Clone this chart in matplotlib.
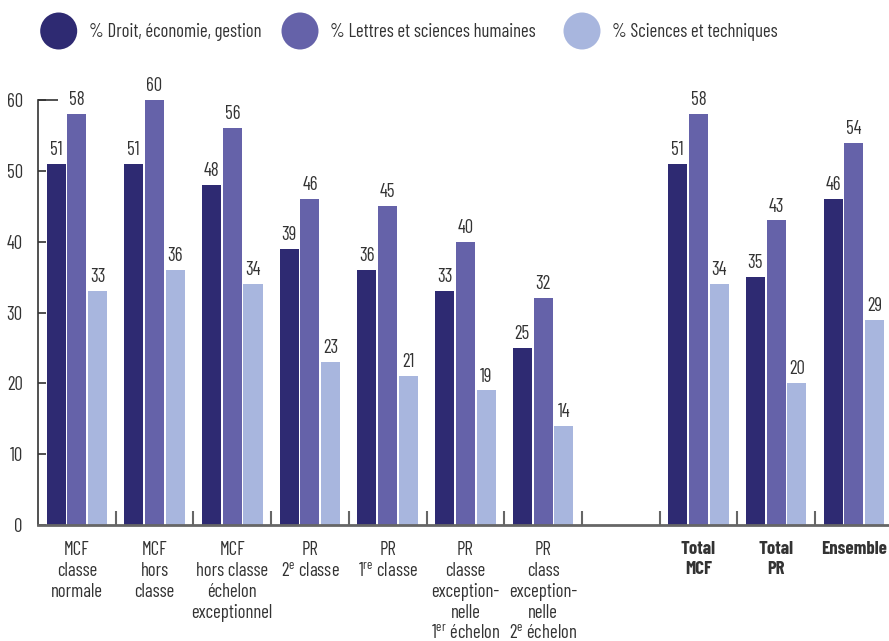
import matplotlib
matplotlib.use("Agg")
import matplotlib.pyplot as plt
from matplotlib import font_manager
from matplotlib.patches import Ellipse
import numpy as np

available = {f.name for f in font_manager.fontManager.ttflist}
candidates = ['Barlow Condensed', 'Roboto Condensed', 'Archivo Narrow', 'PT Sans Narrow',
              'Liberation Sans Narrow', 'DejaVu Sans']
font = next(c for c in candidates if c in available or c == 'DejaVu Sans')
fs = 13.5 if font != 'DejaVu Sans' else 10

plt.rcParams['font.family'] = [font, 'DejaVu Sans']
plt.rcParams['mathtext.fontset'] = 'custom'
plt.rcParams['mathtext.rm'] = font
plt.rcParams['mathtext.it'] = font
plt.rcParams['mathtext.bf'] = font + ':bold'

categories = [
    "MCF\nclasse\nnormale",
    "MCF\nhors\nclasse",
    "MCF\nhors classe\néchelon\nexceptionnel",
    "PR\n2$^{\\mathrm{e}}$ classe",
    "PR\n1$^{\\mathrm{re}}$ classe",
    "PR\nclasse\nexception-\nnelle\n1$^{\\mathrm{er}}$ échelon",
    "PR\nclass\nexception-\nnelle\n2$^{\\mathrm{e}}$ échelon",
    "",
    "Total\nMCF",
    "Total\nPR",
    "Ensemble",
]
bold_cats = {"Total\nMCF", "Total\nPR", "Ensemble"}

series_names = ["% Droit, économie, gestion", "% Lettres et sciences humaines", "% Sciences et techniques"]
droit = [51, 51, 48, 39, 36, 33, 25, None, 51, 35, 46]
lettres = [58, 60, 56, 46, 45, 40, 32, None, 58, 43, 54]
sciences = [33, 36, 34, 23, 21, 19, 14, None, 34, 20, 29]
colors = ["#2e2a72", "#6562a9", "#a8b6de"]

W, H = 889, 641
fig = plt.figure(figsize=(W / 100, H / 100), dpi=100)
left_px, right_px = 38, 889
bottom_px, top_px = 525, 100
ax = fig.add_axes([left_px / W, (H - bottom_px) / H, (right_px - left_px) / W, (bottom_px - top_px) / H])

slot_px = 77.7
ax.set_xlim(0, (right_px - left_px) / slot_px)
ax.set_ylim(0, 60)

bw = 0.245
offsets = [-0.267, 0.0, 0.267]
for s, (vals, col) in enumerate(zip([droit, lettres, sciences], colors)):
    for i, v in enumerate(vals):
        if v is None:
            continue
        x = i + 0.5 + offsets[s]
        ax.bar(x, v, width=bw, color=col, linewidth=0)
        ax.annotate(str(v), (x, v), xytext=(0, 3.5), textcoords='offset points',
                    ha='center', va='bottom', fontsize=fs, color='#333333')

for sp in ['top', 'right']:
    ax.spines[sp].set_visible(False)
ax.spines['left'].set_color('#333333')
ax.spines['left'].set_linewidth(1.2)
ax.spines['bottom'].set_color('#666666')
ax.spines['bottom'].set_linewidth(2)

ax.set_yticks(range(0, 61, 10))
ax.tick_params(axis='y', direction='in', length=6, width=1.2, color='#333333',
               labelsize=fs, labelcolor='#333333', pad=11)
ax.hlines(60, 0, 20 / slot_px, color='#333333', linewidth=1.2, clip_on=False)

ax.set_xticks(np.arange(1, len(categories)))
ax.tick_params(axis='x', direction='in', length=10, width=1.5, color='#666666', labelbottom=False)

for i, c in enumerate(categories):
    ax.text(i + 0.5, -2.3, c, ha='center', va='top', fontsize=fs, color='#333333',
            linespacing=1.2, fontweight='bold' if c in bold_cats else 'normal')

circles_x = [58.7, 300, 582]
texts_x = [89, 330, 612]
for cx, tx, col, name in zip(circles_x, texts_x, colors, series_names):
    e = Ellipse((cx / W, 1 - 31 / H), 37 / W, 37 / H, transform=fig.transFigure, color=col, lw=0)
    fig.patches.append(e)
    fig.text(tx / W, 1 - 32 / H, name, ha='left', va='center', fontsize=fs, color='#333333')

fig.savefig("out.png", dpi=100)
